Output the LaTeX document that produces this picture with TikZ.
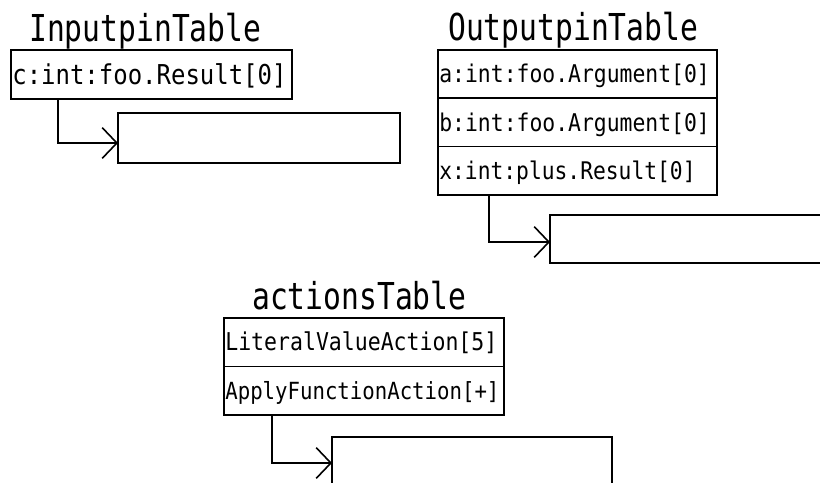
\documentclass[tikz,border=0pt]{standalone}
\usepackage{fontspec}
\usepackage{graphicx}
\usetikzlibrary{arrows.meta}
\newfontfamily\monofont{DejaVu Sans Mono}

% cell text: monospaced, size #1, slightly condensed
\newcommand{\celltext}[2]{\scalebox{0.877}[1]{\fontsize{#1}{#1}\monofont #2}}
\newcommand{\tabletitle}[1]{\scalebox{0.8}[1]{\fontsize{27.8pt}{32pt}\monofont #1}}

\tikzset{
  cell/.style={draw, line width=1.4pt, rectangle, anchor=north west, outer sep=0pt,
    inner xsep=1pt, inner ysep=0pt, align=left, text depth=0pt},
  slot/.style={draw, line width=1.4pt, rectangle, anchor=north west, inner sep=0pt, outer sep=0pt},
  title/.style={anchor=base west, inner sep=0pt},
  link/.style={line width=1.2pt, -{Straight Barb[length=11pt,width=23pt,line width=1.2pt]}}
}

\begin{document}
\begin{tikzpicture}[x=0.75pt,y=-0.75pt]
\useasboundingbox (0,0) rectangle (820,482);
\clip (0,0) rectangle (820,482);

% --- InputpinTable ---
\node[title] (intitle) at (29,41) {\tabletitle{InputpinTable}};
\node[cell, text width=208.75pt, text height=14.5pt, minimum height=36.75pt] (in1) at (11,50)
  {\celltext{20.5pt}{c:int:foo.Result[0]}};
\node[slot, minimum width=211.5pt, minimum height=37.5pt] (intgt) at (118,113) {};
\coordinate (inbend) at (58,143);
\draw[link] (in1.south -| inbend) |- (inbend -| intgt.west);

% --- OutputpinTable ---
\node[title] (outtitle) at (448,40) {\tabletitle{OutputpinTable}};
\node[cell, text width=207.25pt, text height=13pt, minimum height=36.2pt] (out1) at (438,50)
  {\celltext{18.3pt}{a:int:foo.Argument[0]}};
\node[cell, text width=207.25pt, text height=13pt, minimum height=36.2pt] (out2) at (out1.south west)
  {\celltext{18.3pt}{b:int:foo.Argument[0]}};
\node[cell, text width=207.25pt, text height=13pt, minimum height=36.2pt] (out3) at (out2.south west)
  {\celltext{18.2pt}{x:int:plus.Result[0]}};
\node[slot, minimum width=211.5pt, minimum height=36pt] (outtgt) at (550,215) {};
\coordinate (outbend) at (489,242);
\draw[link] (out3.south -| outbend) |- (outbend -| outtgt.west);

% --- actionsTable ---
\node[title] (acttitle) at (252,309) {\tabletitle{actionsTable}};
\node[cell, text width=208pt, text height=13pt, minimum height=36.4pt] (act1) at (224,318)
  {\celltext{18.4pt}{LiteralValueAction[5]}};
\node[cell, text width=208pt, text height=13pt, minimum height=36.4pt] (act2) at (act1.south west)
  {\celltext{17.7pt}{ApplyFunctionAction[+]}};
\node[slot, minimum width=210pt, minimum height=37.5pt] (acttgt) at (332,437) {};
\coordinate (actbend) at (272,463);
\draw[link] (act2.south -| actbend) |- (actbend -| acttgt.west);
\end{tikzpicture}
\end{document}
